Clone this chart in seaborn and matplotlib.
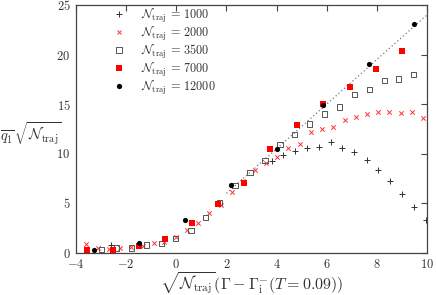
import numpy as np
import pandas as pd
import matplotlib
matplotlib.use("Agg")
import matplotlib.pyplot as plt
import seaborn as sns
from matplotlib.lines import Line2D

# ---- data ----
x_1000 = [-2.59, 3.80, 4.27, 4.74, 5.20, 5.69, 6.16, 6.62, 7.10, 7.60, 8.06, 8.53, 9.02, 9.50, 9.96]
y_1000 = [0.80, 9.26, 9.80, 10.30, 10.60, 10.70, 11.15, 10.55, 10.20, 9.30, 8.35, 7.24, 5.92, 4.57, 3.29]

x_2000 = [-3.60, -3.13, -2.67, -2.23, -1.80, -1.34, -0.90, -0.48, -0.01, 0.43, 0.88, 1.32, 1.77,
          2.21, 2.67, 3.14, 3.58, 4.03, 4.46, 4.92, 5.36, 5.81, 6.25, 6.72, 7.16, 7.61, 8.05,
          8.50, 8.95, 9.39, 9.83]
y_2000 = [0.83, 0.42, 0.35, 0.49, 0.53, 0.66, 0.93, 1.10, 1.54, 2.28, 3.00, 3.95, 4.80,
          6.09, 7.27, 8.35, 9.03, 9.63, 10.60, 10.98, 12.13, 12.47, 12.67, 13.40, 13.64, 14.00, 14.19,
          14.15, 14.05, 14.15, 13.60]

x_3500 = [-3.57, -2.97, -2.38, -1.80, -1.20, -0.60, -0.03, 0.59, 1.17, 1.73, 2.34, 2.94, 3.54,
          4.14, 4.72, 5.32, 5.92, 6.52, 7.12, 7.72, 8.29, 8.87, 9.47]
y_3500 = [0.30, 0.33, 0.45, 0.45, 0.76, 0.90, 1.44, 2.25, 3.57, 5.08, 6.73, 8.08, 9.26,
          10.88, 11.90, 12.97, 13.98, 14.70, 16.00, 16.45, 17.36, 17.53, 17.97]

x_7000 = [-3.56, -2.54, -1.48, -0.44, 0.63, 1.68, 2.71, 3.74, 4.82, 5.87, 6.92, 7.95, 8.99]
y_7000 = [0.25, 0.25, 0.70, 1.40, 2.98, 4.88, 7.00, 10.45, 12.90, 15.00, 16.75, 18.55, 20.40]

x_12000 = [-3.30, -1.47, 0.35, 2.18, 4.00, 5.85, 7.67, 9.50]
y_12000 = [0.30, 0.97, 3.25, 6.83, 10.45, 14.86, 19.05, 23.06]

line_x = [2.0, 10.0]
line_y = [5.97, 24.0]

labels = [r"$\mathcal{N}_{\rm traj}\,=\,1000$", r"$\mathcal{N}_{\rm traj}\,=\,2000$",
          r"$\mathcal{N}_{\rm traj}\,=\,3500$", r"$\mathcal{N}_{\rm traj}\,=\,7000$",
          r"$\mathcal{N}_{\rm traj}\,=\,12000$"]

# ---- style ----
sns.set_theme(style="white")
plt.rcParams["font.family"] = ["serif"]
plt.rcParams["font.serif"] = ["cmr10", "DejaVu Serif"]
plt.rcParams["mathtext.fontset"] = "cm"
plt.rcParams["axes.formatter.use_mathtext"] = True
plt.rcParams["axes.unicode_minus"] = True

fig = plt.figure(figsize=(4.36, 2.95), dpi=100)
ax = fig.add_axes([76 / 436, 1 - 252.5 / 295, (427 - 76) / 436, (252.5 - 5) / 295])

ax.plot(line_x, line_y, linestyle=(0, (1, 2)), color="#777777", lw=0.9, zorder=1)

c_plus = "#333333"
c_x = "#ff3030"
c_sq = "#555555"
c_red = "#ff0000"
c_blk = "#000000"

sns.scatterplot(x=x_1000, y=y_1000, marker="+", color=c_plus, s=14, linewidth=0.7, ax=ax, zorder=2)
sns.scatterplot(x=x_2000, y=y_2000, marker="x", color=c_x, s=10, linewidth=0.7, ax=ax, zorder=3)
ax.scatter(x_3500, y_3500, marker="s", facecolors="none", edgecolors=c_sq, s=14, linewidths=0.7, zorder=4)
sns.scatterplot(x=x_7000, y=y_7000, marker="s", color=c_red, edgecolor=c_red, s=15, linewidth=0, ax=ax, zorder=5)
sns.scatterplot(x=x_12000, y=y_12000, marker="o", color=c_blk, edgecolor=c_blk, s=14, linewidth=0, ax=ax, zorder=6)

ax.set_xlim(-4, 10)
ax.set_ylim(0, 25)
ax.set_xticks(np.arange(-4, 11, 2))
ax.set_yticks(np.arange(0, 26, 5))
ax.tick_params(direction="in", top=True, right=True, length=4, width=0.8,
               color="#444444", labelsize=9, labelcolor="#333333", pad=4)
for sp in ax.spines.values():
    sp.set_color("#444444")
    sp.set_linewidth(0.9)

ax.set_xlabel(r"$\sqrt{\mathcal{N}_{\rm traj}}(\Gamma-\Gamma_{\rm i}^{-}(T=0.09))$",
              fontsize=11.5, color="#333333", labelpad=-1)
ax.set_ylabel(r"$\overline{q_1}\,\sqrt{\mathcal{N}_{\rm traj}}$", fontsize=10.5,
              color="#333333", rotation=0, ha="left", va="center")
ax.yaxis.set_label_coords(-76 / 351, 0.48)

handles = [
    Line2D([], [], ls="none", marker="+", color=c_plus, ms=3.8, mew=0.7),
    Line2D([], [], ls="none", marker="x", color=c_x, ms=3.0, mew=0.7),
    Line2D([], [], ls="none", marker="s", mfc="none", mec=c_sq, ms=3.8, mew=0.7),
    Line2D([], [], ls="none", marker="s", color=c_red, ms=3.8, mew=0),
    Line2D([], [], ls="none", marker="o", color=c_blk, ms=3.8, mew=0),
]
leg = ax.legend(handles, labels, loc="upper left", bbox_to_anchor=(0.085, 1.025),
                frameon=False, fontsize=8.8, labelspacing=0.0, handlelength=1.0,
                handletextpad=1.3, borderaxespad=0.2)
for t in leg.get_texts():
    t.set_color("#333333")

fig.savefig("out.png", dpi=100)
